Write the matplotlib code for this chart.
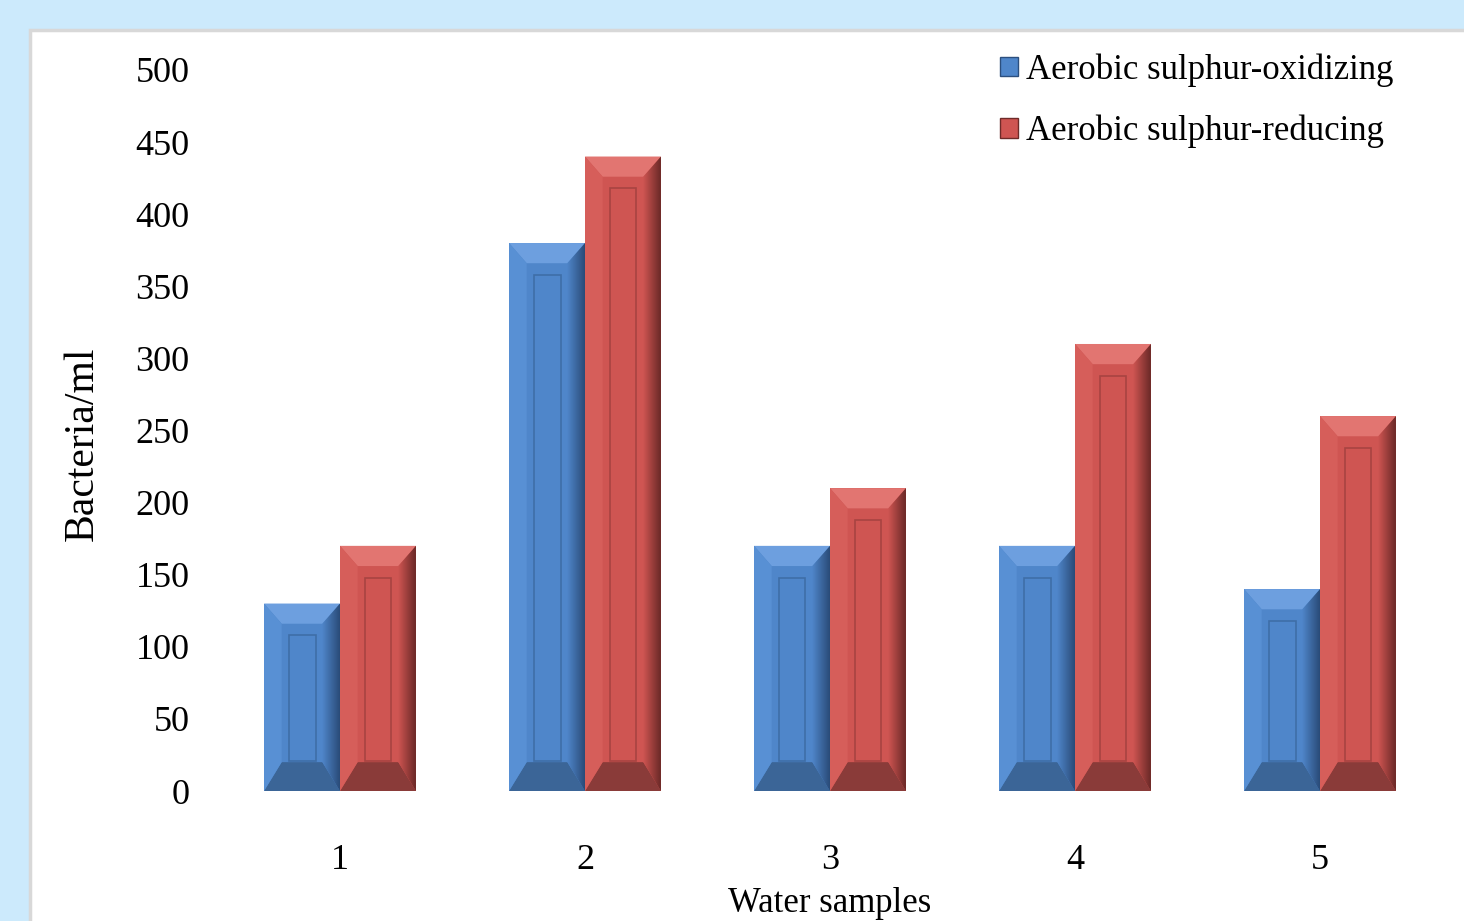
import matplotlib
matplotlib.use("Agg")
import matplotlib.pyplot as plt
import numpy as np
from matplotlib.patches import Rectangle, Polygon

plt.rcParams['font.family'] = ['Liberation Serif', 'DejaVu Serif']

samples = ['1', '2', '3', '4', '5']
oxidizing = [130, 380, 170, 170, 140]
reducing = [170, 440, 210, 310, 260]
series_names = ['Aerobic sulphur-oxidizing', 'Aerobic sulphur-reducing']

W, H = 1464, 921
fig = plt.figure(figsize=(W / 100, H / 100), dpi=100)
fig.patch.set_facecolor('#cceafc')

# white panel with grey rim
fig.patches.append(Rectangle((30 / W, -0.01), 1.0, (H - 30) / H + 0.01,
                             transform=fig.transFigure, facecolor='white',
                             edgecolor='#d8d8d8', linewidth=2.5, zorder=-5))

ax = fig.add_axes([217.5 / W, (H - 791) / H, 1225 / W, 721 / H])
ax.set_zorder(2)
ax.set_facecolor('none')

x = np.arange(1, len(samples) + 1)
bw = 0.31

# colour sets: face, top bevel, left bevel, right bevel, bottom bevel, inner line
blue = dict(face='#4f86ca', top='#6d9fdf', left='#5890d4', right='#2a4b78',
            bottom='#3b6597', line='#3f6ea8')
red = dict(face='#cf5552', top='#e27571', left='#d65e5a', right='#6a2927',
           bottom='#8a3b39', line='#a84442')

dx = 0.072   # bevel width in x units
top_d = 14.0  # top bevel depth in y units
bot_d = 20.0  # bottom bevel depth


def bevel_bar(x0, val, c):
    x1 = x0 + bw
    ax.add_patch(Rectangle((x0, 0), bw, val, facecolor=c['face'], edgecolor='none', zorder=2))
    ix0, ix1 = x0 + dx, x1 - dx
    iy0, iy1 = bot_d, val - top_d
    # sloped faces
    ax.add_patch(Polygon([(x0, val), (x1, val), (ix1, iy1), (ix0, iy1)],
                         facecolor=c['top'], edgecolor='none', zorder=3))
    ax.add_patch(Polygon([(x0, 0), (x1, 0), (ix1, iy0), (ix0, iy0)],
                         facecolor=c['bottom'], edgecolor='none', zorder=3))
    ax.add_patch(Polygon([(x0, 0), (ix0, iy0), (ix0, iy1), (x0, val)],
                         facecolor=c['left'], edgecolor='none', zorder=3))
    # right face shaded with a gradient
    rp = Polygon([(x1, 0), (ix1, iy0), (ix1, iy1), (x1, val)],
                 facecolor='none', edgecolor='none', zorder=3)
    ax.add_patch(rp)
    grad = np.linspace(0, 1, 64).reshape(1, -1)
    cmap = matplotlib.colors.LinearSegmentedColormap.from_list('r', [c['face'], c['right']])
    im = ax.imshow(grad, extent=(ix1, x1, 0, val), cmap=cmap, aspect='auto',
                   interpolation='bilinear', zorder=3)
    im.set_clip_path(rp)
    # flat centre panel with recessed outline
    ax.add_patch(Rectangle((x0 + 0.1, bot_d + 1), bw - 0.2, val - top_d - bot_d - 9,
                           facecolor='none', edgecolor=c['line'], linewidth=1.2, zorder=4))


for xi, a, b in zip(x, oxidizing, reducing):
    bevel_bar(xi - bw, a, blue)
    bevel_bar(xi, b, red)

ax.set_xlim(0.5, 5.5)
ax.set_ylim(0, 500)
ax.set_xticks(x)
ax.set_xticklabels(samples)
ax.set_yticks(np.arange(0, 501, 50))
for s in ax.spines.values():
    s.set_visible(False)
ax.tick_params(axis='both', length=0, labelsize=26)
ax.tick_params(axis='x', pad=38)
ax.tick_params(axis='y', pad=20)
ax.set_xlabel('Water samples', fontsize=25, labelpad=7)

fig.text(82 / W, 1 - 444 / H, 'Bacteria/ml', rotation=90, fontsize=30,
         ha='center', va='center')

handles = [Rectangle((0, 0), 1, 1, facecolor=blue['face'], edgecolor='#2c4f7e', linewidth=1),
           Rectangle((0, 0), 1, 1, facecolor=red['face'], edgecolor='#6e2b29', linewidth=1)]
fig.legend(handles, series_names, loc='upper left', bbox_to_anchor=(983 / W, 1 - 36 / H),
           frameon=False, fontsize=25, borderpad=0, handlelength=0.5, handleheight=0.5,
           handletextpad=0.25, labelspacing=0.8)

fig.savefig('out.png', dpi=100, facecolor=fig.get_facecolor())
